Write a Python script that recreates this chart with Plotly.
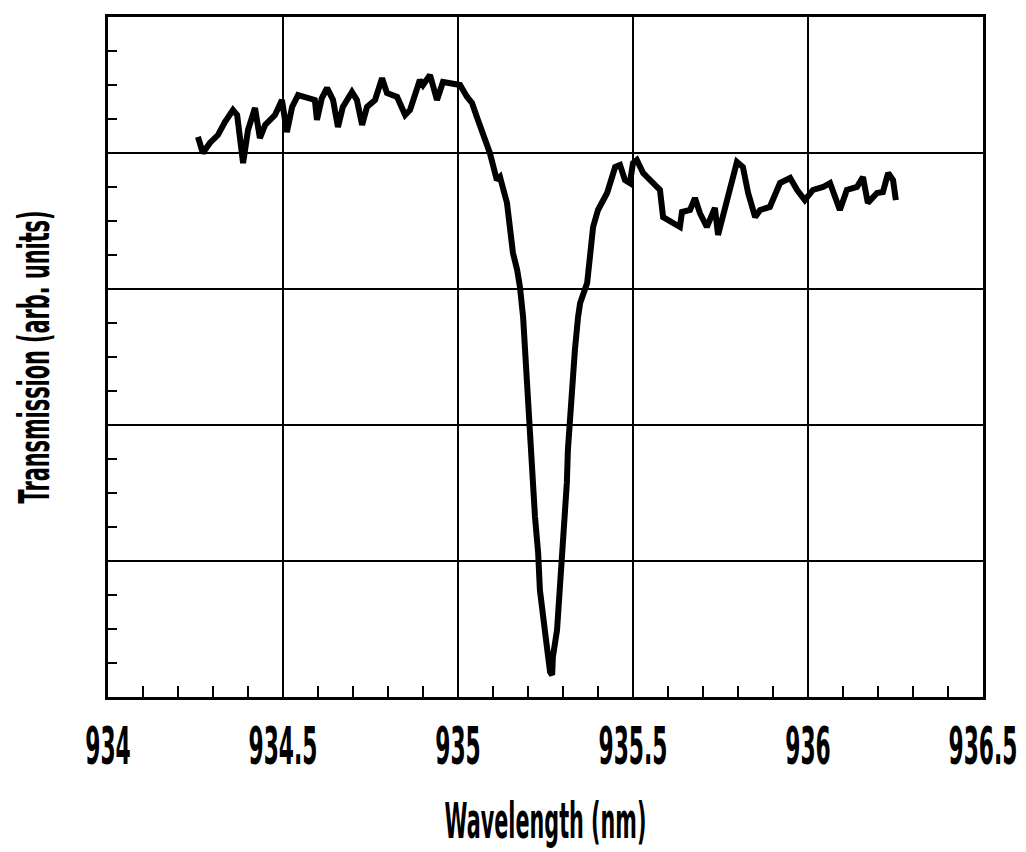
import plotly.graph_objects as go

# Measured transmission spectrum around the 935 nm absorption dip
wavelength_nm = [
    934.257, 934.271, 934.291, 934.314, 934.334, 934.357, 934.369, 934.386, 934.400,
    934.420, 934.434, 934.449, 934.477, 934.497, 934.511, 934.526, 934.543, 934.569,
    934.591, 934.597, 934.611, 934.626, 934.643, 934.657, 934.671, 934.697, 934.711,
    934.726, 934.740, 934.763, 934.783, 934.797, 934.826, 934.849, 934.863, 934.891,
    934.900, 934.920, 934.940, 934.957, 934.986, 935.006, 935.026, 935.040, 935.057,
    935.077, 935.091, 935.111, 935.120, 935.140, 935.149, 935.157, 935.169, 935.177,
    935.186, 935.194, 935.200, 935.206, 935.214, 935.220, 935.229, 935.234, 935.249,
    935.257, 935.263, 935.269, 935.271, 935.283, 935.291, 935.297, 935.306, 935.311,
    935.314, 935.323, 935.334, 935.343, 935.349, 935.369, 935.377, 935.386, 935.400,
    935.426, 935.449, 935.463, 935.477, 935.491, 935.500, 935.511, 935.529, 935.557,
    935.577, 935.586, 935.614, 935.634, 935.640, 935.663, 935.677, 935.691, 935.711,
    935.734, 935.743, 935.757, 935.777, 935.797, 935.814, 935.829, 935.849, 935.863,
    935.891, 935.920, 935.949, 935.969, 935.991, 936.014, 936.043, 936.063, 936.091,
    936.111, 936.140, 936.157, 936.171, 936.197, 936.214, 936.229, 936.243, 936.251,
]
transmission = [
    4.118, 4.000, 4.074, 4.132, 4.228, 4.316, 4.279, 3.926, 4.169,
    4.331, 4.110, 4.206, 4.279, 4.390, 4.154, 4.338, 4.426, 4.412,
    4.390, 4.243, 4.404, 4.478, 4.390, 4.191, 4.338, 4.449, 4.390,
    4.206, 4.338, 4.390, 4.551, 4.441, 4.412, 4.279, 4.316, 4.537,
    4.500, 4.574, 4.390, 4.522, 4.515, 4.500, 4.412, 4.368, 4.243,
    4.096, 4.000, 3.801, 3.824, 3.632, 3.456, 3.265, 3.140, 3.015,
    2.794, 2.404, 2.110, 1.816, 1.574, 1.324, 1.059, 0.787, 0.471,
    0.250, 0.184, 0.162, 0.294, 0.493, 0.787, 1.059, 1.324, 1.574,
    1.816, 2.184, 2.551, 2.794, 2.897, 3.044, 3.235, 3.456, 3.581,
    3.706, 3.897, 3.912, 3.801, 3.779, 3.926, 3.949, 3.853, 3.779,
    3.728, 3.529, 3.485, 3.456, 3.566, 3.581, 3.669, 3.559, 3.456,
    3.596, 3.397, 3.529, 3.728, 3.934, 3.897, 3.706, 3.529, 3.581,
    3.603, 3.779, 3.816, 3.728, 3.654, 3.728, 3.750, 3.779, 3.581,
    3.728, 3.750, 3.824, 3.632, 3.706, 3.713, 3.853, 3.801, 3.654,
]

x_ticks = [934, 934.5, 935, 935.5, 936, 936.5]
x_tick_labels = ["934", "934.5", "935", "935.5", "936", "936.5"]

FONT = "DejaVu Sans"

fig = go.Figure(
    go.Scatter(
        x=wavelength_nm,
        y=transmission,
        mode="lines",
        line=dict(color="black", width=6),
        showlegend=False,
    )
)

fig.update_layout(
    width=1026,
    height=852,
    margin=dict(l=108, r=43, t=17, b=155, autoexpand=False),
    paper_bgcolor="white",
    plot_bgcolor="white",
    font=dict(family=FONT, color="black", size=34, weight="bold"),
)

fig.update_xaxes(
    range=[934, 936.5],
    tickvals=x_ticks,
    ticktext=x_tick_labels,
    ticklabeloverflow="allow",
    ticklabelstandoff=2,
    automargin=False,
    showgrid=True,
    gridcolor="black",
    gridwidth=2,
    showline=True,
    linecolor="black",
    linewidth=3,
    mirror=True,
    ticks="inside",
    ticklen=10,
    tickwidth=2,
    tickcolor="black",
    tickfont=dict(size=52, family=FONT, weight="bold"),
    minor=dict(dtick=0.1, ticks="inside", ticklen=11, tickwidth=2,
               tickcolor="black", showgrid=False),
    title=dict(text="Wavelength (nm)",
               font=dict(size=50, family=FONT, weight="bold"), standoff=28),
    zeroline=False,
)

fig.update_yaxes(
    range=[0, 5],
    dtick=1,
    tick0=0,
    showticklabels=False,
    automargin=False,
    showgrid=True,
    gridcolor="black",
    gridwidth=2,
    showline=True,
    linecolor="black",
    linewidth=3,
    mirror=True,
    ticks="inside",
    ticklen=9,
    tickwidth=2,
    tickcolor="black",
    minor=dict(dtick=0.25, ticks="inside", ticklen=9, tickwidth=2,
               tickcolor="black", showgrid=False),
    title=dict(text="Transmission (arb. units)",
               font=dict(size=42, family=FONT, weight="bold"), standoff=43),
    zeroline=False,
)

# Condensed lettering: squeeze the glyphs of the axis texts horizontally
condense_js = """
var gd = document.getElementById('{plot_id}');
function squeeze(sel, factor, target) {
  gd.querySelectorAll(sel).forEach(function (t) {
    var w = t.getComputedTextLength();
    t.setAttribute('textLength', target ? target : w * factor);
    t.setAttribute('lengthAdjust', 'spacingAndGlyphs');
  });
}
squeeze('.xtick text', 0.42);
squeeze('.xtitle', 0, 202);
squeeze('.ytitle', 0, 293);
"""

fig.write_html("out.html", post_script=condense_js)
